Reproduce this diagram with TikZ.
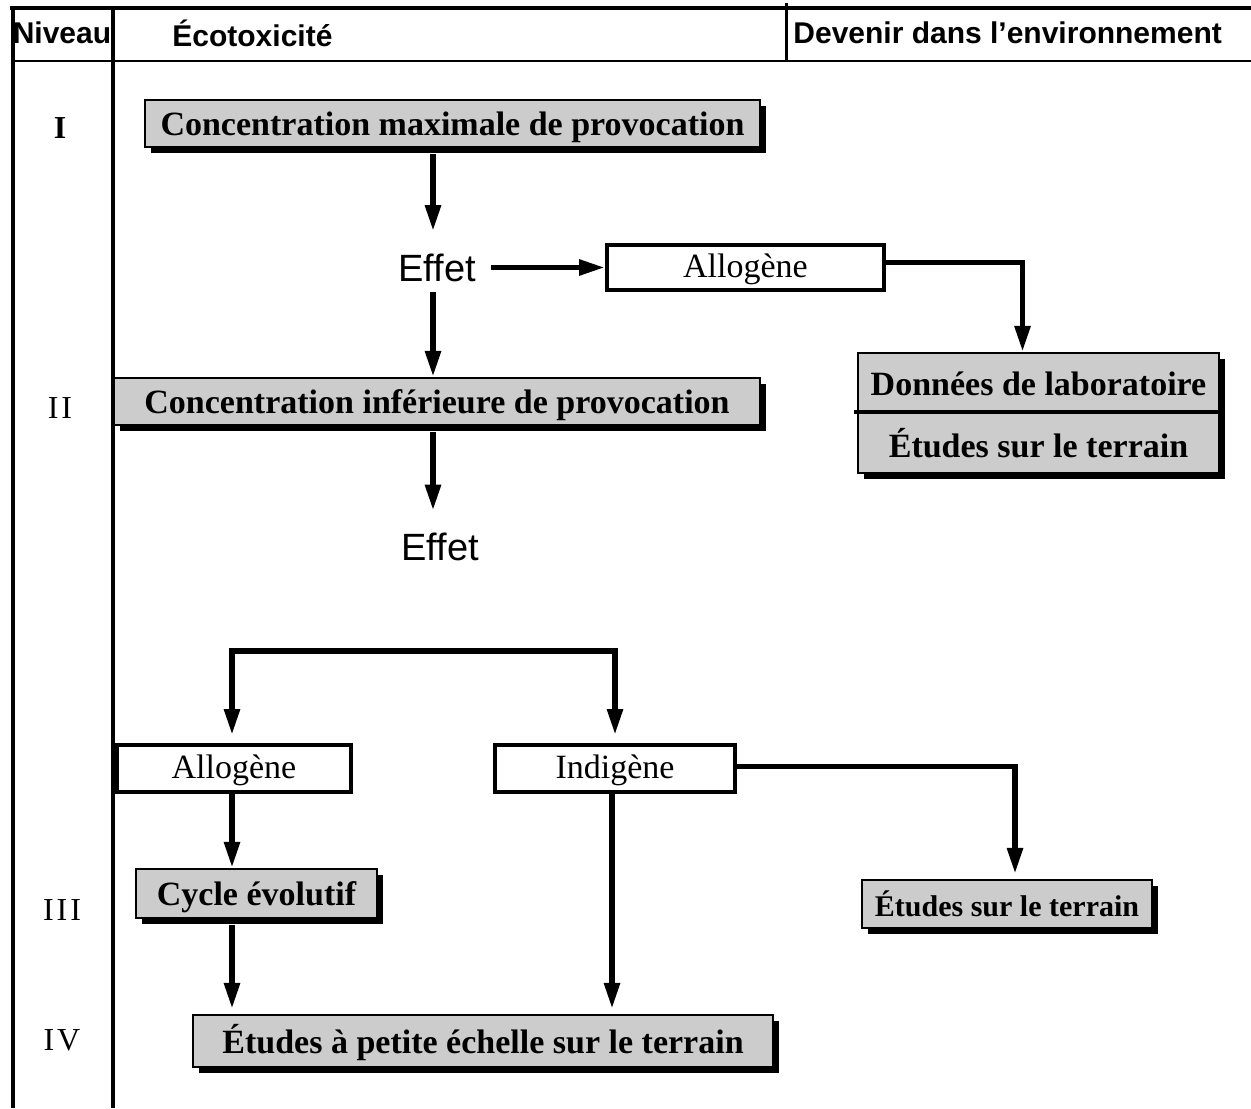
\documentclass[tikz,border=0pt]{standalone}
\usepackage{fontspec}
\setmainfont{Liberation Serif}
\setsansfont{Liberation Sans}
\usetikzlibrary{arrows.meta,shadows,calc}
\tikzset{
  arr/.style={line width=2.8pt, -{Triangle[length=13pt,width=7.5pt]}},
  graybox/.style={draw, line width=1.1pt, fill=gray!40, inner sep=0pt,
    text height=15pt, text depth=3.5pt,
    font=\fontsize{17}{20}\selectfont\bfseries,
    drop shadow={shadow xshift=3pt, shadow yshift=-3pt, fill=black, opacity=1}},
  whitebox/.style={draw, line width=2pt, fill=white, inner sep=0pt,
    text height=14pt, text depth=4pt,
    font=\fontsize{17}{20}\selectfont},
  effet/.style={inner sep=0pt, font=\sffamily\fontsize{19}{22}\selectfont},
  head/.style={inner sep=0pt, font=\sffamily\bfseries\fontsize{15}{18}\selectfont},
  lvl/.style={inner sep=0pt, font=\fontsize{16}{19}\selectfont}
}
\begin{document}
\begin{tikzpicture}[x=0.5pt,y=-0.5pt]
\useasboundingbox (0,0) rectangle (1251,1108);
% table frame
\coordinate (tl) at (10,8);
\coordinate (tr) at (1251,8);
\draw[line width=2pt] (tl) -- (tr);
\draw[line width=1.2pt] (12,61) -- (1251,61);
\draw[line width=2pt] (12.5,6) -- (12.5,1108);
\draw[line width=2pt] (113,6) -- (113,1108);
\draw[line width=1.5pt] (786,3) -- (786,62);
% header
\node[head] (hniv) at (62,33) {Niveau};
\node[head, anchor=west] (heco) at (172,33) {Écotoxicité};
\node[head, anchor=west] (hdev) at (793,33) {Devenir dans l’environnement};
% levels
\node[lvl, font=\fontsize{16}{19}\selectfont\bfseries] (l1) at (60,128) {I};
\node[lvl] (l2) at (60,408) {I\kern1.5pt I};
\node[lvl] (l3) at (62,910) {I\kern1.5pt I\kern1.5pt I};
\node[lvl] (l4) at (62,1040) {I\kern1.5pt V};
% boxes
\node[graybox, minimum width=307.5pt, minimum height=23.5pt] (cmax) at (452.5,123.5) {Concentration maximale de provocation};
\node[effet] (effet1) at (437,267.5) {Effet};
\node[whitebox, minimum width=138.5pt, minimum height=22.5pt] (allo1) at (745.5,267.5) {Allogène};
\node[graybox, minimum width=323pt, minimum height=23.5pt] (cinf) at (437,401.5) {Concentration inférieure de provocation};
\node[graybox, minimum width=180.5pt, minimum height=29pt, text height=16.5pt] (donnees) at (1038.5,382) {Données de laboratoire};
\node[graybox, minimum width=180.5pt, minimum height=31pt, text height=18.5pt] (etud1) at (1038.5,442) {Études sur le terrain};
\draw[line width=2pt] ([xshift=-1.5pt]donnees.south west) -- (donnees.south east);
\node[effet] (effet2) at (440,547) {Effet};
\node[whitebox, minimum width=117pt, minimum height=23.5pt] (allo2) at (234,768.5) {Allogène};
\node[whitebox, minimum width=120pt, minimum height=23.5pt] (indig) at (615,768.5) {Indigène};
\node[graybox, minimum width=120.5pt, minimum height=24.5pt] (cycle) at (256.5,893.5) {Cycle évolutif};
\node[graybox, minimum width=145pt, minimum height=24pt, text height=15.5pt, text depth=3pt, font=\fontsize{15}{18}\selectfont\bfseries] (etud2) at (1007,904) {Études sur le terrain};
\node[graybox, minimum width=290pt, minimum height=26pt, text height=15.5pt] (petite) at (483,1041) {Études à petite échelle sur le terrain};
% connectors
\draw[arr] ($(cmax.south -| effet1)+(-2pt,-3pt)$) -- ($(effet1.north)+(-2pt,11pt)$);
\draw[arr] ([xshift=7.5pt]effet1.east) -- (allo1.west);
\draw[arr] ([yshift=2.5pt]allo1.east) -| ([xshift=-8pt]donnees.north);
\draw[arr] ($(effet1.south)+(-2pt,-5pt)$) -- ($(effet1 |- cinf.north)+(-2pt,0)$);
\draw[arr] ($(cinf.south -| effet1)+(-2pt,-3pt)$) -- ($(effet1 |- effet2.north)+(-2pt,11pt)$);
\coordinate (bar) at (420,651);
\draw[line width=2.8pt, line join=miter, {Triangle[length=13pt,width=7.5pt]}-{Triangle[length=13pt,width=7.5pt]}]
  ($(allo2.north)+(-1pt,4pt)$) |- (bar) -| ([yshift=4pt]indig.north);
\draw[arr] ([yshift=1pt]indig.east) -| ($(etud2.north)+(4pt,2.5pt)$);
\draw[arr] ($(allo2.south)+(-1pt,0)$) -- ($(allo2.south |- cycle.north)+(-1pt,0)$);
\draw[arr] ($(allo2 |- cycle.south)+(-1pt,-3pt)$) -- ($(allo2 |- petite.north)+(-1pt,2.5pt)$);
\draw[arr] ($(indig.south)+(-1.5pt,0)$) -- ($(indig.south |- petite.north)+(-1.5pt,2.5pt)$);
\end{tikzpicture}
\end{document}
